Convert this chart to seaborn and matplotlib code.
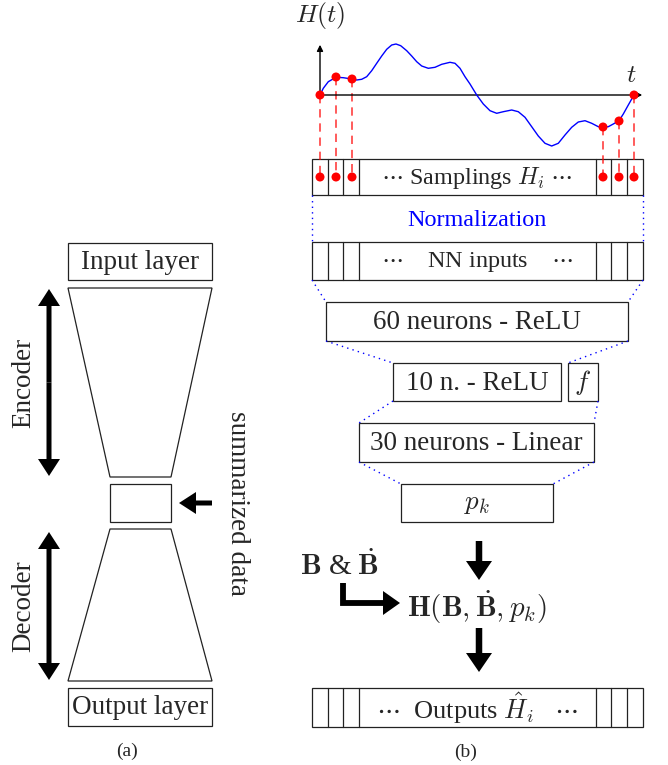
import pandas as pd
import matplotlib.pyplot as plt
import seaborn as sns
from matplotlib.patches import Rectangle, Polygon

# ==========================================
# 1. Values
# ==========================================
# H(t) curve: t = px to the right of the H axis, H = px above the t axis
CURVE_T = [0, 3.3, 8.3, 16, 23.3, 31.7, 36.7, 41.7, 46.7, 51.7, 56.7, 61.7, 66.7, 71.7,
           76, 80.7, 86.7, 91.7, 96.7, 101.7, 108.3, 115, 121.7, 130, 135, 140, 145,
           150, 156.7, 163.3, 170, 176.7, 183.3, 191.7, 198.3, 205, 211.7, 218.3, 225,
           231.7, 238.3, 245, 251.7, 258.3, 265, 271.7, 278.3, 282.7, 288.3, 293.3,
           299, 303.3, 308.3, 314]
CURVE_H = [0, 6.7, 13.3, 17.7, 17.3, 16, 15, 15.7, 18.3, 24.3, 31.7, 39, 45.7, 50,
           51, 49.3, 44.3, 39, 33.3, 29, 26.7, 27.7, 30.7, 32.7, 31.7, 26.7, 18.3,
           11, 0, -9, -15.7, -18.3, -16.7, -15, -16.7, -22.3, -31.7, -41, -48.3,
           -51, -48.3, -40, -32.3, -27, -25.7, -28.3, -31.7, -32.3, -31.7, -29,
           -25.7, -19, -10, 0]

# sampled points H_i
SAMPLE_T = [0, 16, 32, 283, 299, 314]
SAMPLE_H = [0, 18, 16, -32, -26, 0]

# network layers of panel (b)
LAYER_LABELS = ["60 neurons - ReLU", "10 n. - ReLU", "30 neurons - Linear", r"$p_k$"]
ROW_LABELS = [r"$\cdots$ Samplings $H_i$ $\cdots$",
              r"$\cdots$    NN inputs    $\cdots$",
              r"$\cdots$  Outputs $\hat{H}_i$   $\cdots$"]
ROW_SIZES = [17.4, 17.4, 19]

# ==========================================
# 2. Layout (pixels, y grows downwards)
# ==========================================
W, H = 668, 765
ORIGIN = (320, 95)           # where t and H axes cross
BOX_DOT_Y = 177
ROW_X = (312, 643)
ROW_DIVS = [328, 343, 359, 596, 611, 627]
ROWS_Y = [(159, 195), (242, 280), (688, 727)]
LAYER_BOXES = [(326, 302, 628, 341), (393, 363, 561, 401),
               (359, 423, 594, 462), (401, 484, 553, 522)]
F_BOX = (568, 363, 598, 401)

sns.set_theme(style="white")
plt.rcParams["font.family"] = ["Liberation Serif", "DejaVu Serif"]
plt.rcParams["mathtext.fontset"] = "cm"

fig = plt.figure(figsize=(W / 100, H / 100), dpi=100)
ax = fig.add_axes([0, 0, 1, 1])
ax.set_xlim(0, W)
ax.set_ylim(H, 0)
ax.axis("off")

FS = 19.5
LW = 0.9


def rect(x0, y0, x1, y1):
    ax.add_patch(Rectangle((x0, y0), x1 - x0, y1 - y0, fill=False, ec="#222222", lw=LW))


def dotted(p, q):
    ax.plot([p[0], q[0]], [p[1], q[1]], color="blue", lw=1.0, ls=(0, (1, 3)))


def big_arrow(x, y, dx, dy, shaft=5, hw=22, hl=17):
    ax.arrow(x, y, dx, dy, width=shaft, head_width=hw, head_length=hl,
             length_includes_head=True, color="black", lw=0)


# ---------------- panel (a): autoencoder ----------------
rect(68, 243, 212, 280)
ax.text(140, 262, "Input layer", fontsize=FS, ha="center", va="center")
ax.add_patch(Polygon([(68, 288), (212, 288), (171, 477), (110, 477)], closed=True,
                     fill=False, ec="#222222", lw=LW))
rect(110, 484, 171, 522)
ax.add_patch(Polygon([(110, 529), (171, 529), (212, 681), (68, 681)], closed=True,
                     fill=False, ec="#222222", lw=LW))
rect(68, 688, 212, 726)
ax.text(140, 707, "Output layer", fontsize=FS, ha="center", va="center")

for y0, y1, lab in [(289, 476, "Encoder"), (532, 680, "Decoder")]:
    mid = (y0 + y1) / 2
    big_arrow(49, mid, 0, y0 - mid)
    big_arrow(49, mid, 0, y1 - mid)
    ax.text(24, mid, lab, fontsize=FS, rotation=90, ha="center", va="center")

big_arrow(212, 503, -33, 0)
ax.text(237, 503, "summarized data", fontsize=FS, rotation=-90, ha="center", va="center")
ax.text(127, 751, "(a)", fontsize=14, ha="center", va="center")

# ---------------- panel (b): H(t) sampling ----------------
ox, oy = ORIGIN
curve = pd.DataFrame({"x": [ox + t for t in CURVE_T], "y": [oy - h for h in CURVE_H]})
samples = pd.DataFrame({"x": [ox + t for t in SAMPLE_T], "y": [oy - h for h in SAMPLE_H]})

ax.annotate("", xy=(645, oy), xytext=(ox, oy),
            arrowprops=dict(arrowstyle="-|>", lw=1.0, color="black", mutation_scale=9))
ax.annotate("", xy=(ox, 42), xytext=(ox, oy),
            arrowprops=dict(arrowstyle="-|>", lw=1.0, color="black", mutation_scale=9))
ax.text(320, 15, r"$H(t)$", fontsize=18.5, ha="center", va="center")
ax.text(631, 76, r"$t$", fontsize=18.5, ha="center", va="center")

sns.lineplot(data=curve, x="x", y="y", ax=ax, color="blue", lw=1.0, sort=False,
             estimator=None, zorder=3)
for x, y in zip(samples["x"], samples["y"]):
    ax.plot([x, x], [y, BOX_DOT_Y], color="red", alpha=0.75, lw=1.2,
            ls=(0, (5, 3.5)), zorder=2)
sns.scatterplot(data=samples, x="x", y="y", ax=ax, color="red", s=42,
                edgecolor="none", zorder=5)
sns.scatterplot(x=samples["x"], y=[BOX_DOT_Y] * len(samples), ax=ax, color="red",
                s=42, edgecolor="none", zorder=5)

# rows of cells (samplings, NN inputs, outputs)
for (y0, y1), lab, fs in zip(ROWS_Y, ROW_LABELS, ROW_SIZES):
    rect(ROW_X[0], y0, ROW_X[1], y1)
    for xd in ROW_DIVS:
        ax.plot([xd, xd], [y0, y1], color="#222222", lw=LW)
    ax.text(477, (y0 + y1) / 2 + 1, lab, fontsize=fs, ha="center", va="center")

ax.text(477, 220, "Normalization", fontsize=17.4, color="blue", ha="center", va="center")
dotted((ROW_X[0], 195), (ROW_X[0], 242))
dotted((ROW_X[1], 195), (ROW_X[1], 242))

# layers of the network
for (x0, y0, x1, y1), lab in zip(LAYER_BOXES, LAYER_LABELS):
    rect(x0, y0, x1, y1)
    ax.text((x0 + x1) / 2, (y0 + y1) / 2 + 1, lab, fontsize=FS, ha="center", va="center")
rect(*F_BOX)
ax.text((F_BOX[0] + F_BOX[2]) / 2, 382, r"$f$", fontsize=FS, ha="center", va="center")

dotted((ROW_X[0], 280), (326, 302))
dotted((ROW_X[1], 280), (628, 302))
dotted((326, 341), (393, 363))
dotted((628, 341), (568, 363))
dotted((393, 401), (359, 423))
dotted((598, 401), (594, 423))
dotted((359, 462), (401, 484))
dotted((594, 462), (553, 484))

# model H(B, dB, p_k)
big_arrow(479, 541, 0, 39, shaft=6.5, hw=26, hl=19)
ax.text(340, 566, r"$\mathbf{B}$ & $\dot{\mathbf{B}}$", fontsize=21, ha="center", va="center")
ax.plot([343, 343, 386], [583, 603, 603], color="black", lw=4.2,
        solid_joinstyle="miter", solid_capstyle="butt")
big_arrow(383, 603, 17, 0, shaft=6, hw=24, hl=17)
ax.text(477, 607, r"$\mathbf{H}(\mathbf{B},\dot{\mathbf{B}},p_k)$", fontsize=21,
        ha="center", va="center")
big_arrow(479, 628, 0, 44, shaft=6.5, hw=26, hl=19)

ax.text(466, 752, "(b)", fontsize=14, ha="center", va="center")

fig.savefig("out.png", dpi=100)
